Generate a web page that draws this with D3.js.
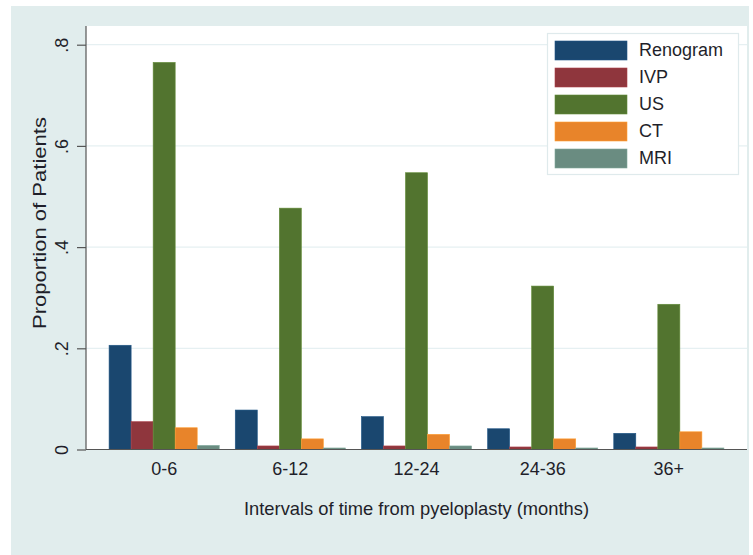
<!DOCTYPE html>
<html>
<head>
<meta charset="utf-8">
<script src="https://cdn.jsdelivr.net/npm/d3@7"></script>
<style>
  html, body { margin: 0; padding: 0; background: #ffffff; }
  svg { display: block; font-family: "Liberation Sans", Arial, sans-serif; }
</style>
</head>
<body>
<svg id="chart" width="753" height="555"></svg>
<script>
const categories = ["0-6", "6-12", "12-24", "24-36", "36+"];
const seriesNames = ["Renogram", "IVP", "US", "CT", "MRI"];
const renogram = [0.206, 0.078, 0.065, 0.041, 0.032];
const ivp      = [0.055, 0.007, 0.007, 0.005, 0.005];
const us       = [0.765, 0.477, 0.547, 0.323, 0.287];
const ct       = [0.043, 0.021, 0.030, 0.021, 0.035];
const mri      = [0.008, 0.003, 0.007, 0.003, 0.003];
const yTicks   = [0, 0.2, 0.4, 0.6, 0.8];
const yTickLabels = ["0", ".2", ".4", ".6", ".8"];
const colors = ["#1a476f", "#8f363d", "#52742f", "#e8842a", "#6a8c81"];

const seriesValues = [renogram, ivp, us, ct, mri];

const svg = d3.select("#chart");
const W = 753, H = 555;
const plot = { left: 86, right: 747, top: 26, bottom: 449.5 };
const textColor = "#1f1f2a";

// outer graph region
svg.append("rect").attr("x", 11).attr("y", 6).attr("width", 738).attr("height", H - 6)
  .attr("fill", "#e1eded");
// plot region
svg.append("rect").attr("x", plot.left).attr("y", plot.top)
  .attr("width", plot.right - plot.left).attr("height", plot.bottom - plot.top)
  .attr("fill", "#ffffff");

const x0 = d3.scaleBand().domain(categories).range([plot.left, plot.right])
  .paddingInner(0.127).paddingOuter(0.183);
const x1 = d3.scaleBand().domain(seriesNames).range([0, x0.bandwidth()]).padding(0);
const y = d3.scaleLinear().domain([0, 0.8]).range([plot.bottom, plot.bottom - 0.8 * 506]);

// gridlines
svg.append("g").selectAll("line").data(yTicks.filter(d => d > 0)).join("line")
  .attr("x1", plot.left).attr("x2", plot.right)
  .attr("y1", d => y(d)).attr("y2", d => y(d))
  .attr("stroke", "#e6f0f2").attr("stroke-width", 1.2);

// bars
const color = d3.scaleOrdinal().domain(seriesNames).range(colors);
const groups = svg.append("g").selectAll("g").data(categories).join("g")
  .attr("transform", d => `translate(${x0(d)},0)`);
groups.selectAll("rect")
  .data((c, i) => seriesNames.map((s, j) => ({ s, v: seriesValues[j][i] })))
  .join("rect")
  .attr("x", d => x1(d.s))
  .attr("y", d => y(d.v))
  .attr("width", x1.bandwidth())
  .attr("height", d => y(0) - y(d.v))
  .attr("fill", d => color(d.s))
  .attr("stroke", d => d3.color(color(d.s)).brighter(0.5))
  .attr("stroke-width", 0.6);

// y axis
const yAxis = d3.axisLeft(y).tickValues(yTicks).tickFormat((d, i) => yTickLabels[i])
  .tickSize(9).tickPadding(0);
const gy = svg.append("g").attr("transform", `translate(${plot.left},0)`).call(yAxis);
gy.select(".domain").attr("d", `M0,${plot.top}V${plot.bottom}`).attr("stroke", "#555").attr("stroke-width", 1.2);
gy.selectAll(".tick line").attr("stroke", "#555").attr("stroke-width", 1.2);
gy.selectAll(".tick text")
  .attr("x", 0).attr("y", 0).attr("dy", null)
  .attr("text-anchor", "middle")
  .attr("transform", "translate(-23,0) rotate(-90)")
  .attr("dominant-baseline", "middle")
  .attr("font-size", 18).attr("fill", textColor)
  .style("font-family", "'Liberation Sans', Arial, sans-serif");

// x axis
const xAxis = d3.axisBottom(x0).tickSize(0).tickPadding(0);
const gx = svg.append("g").attr("transform", `translate(0,${plot.bottom})`).call(xAxis);
gx.select(".domain").attr("d", `M${plot.left},0H${plot.right}`).attr("stroke", "#555").attr("stroke-width", 1.2);
gx.selectAll(".tick text").attr("y", 25).attr("dy", null)
  .attr("font-size", 18).attr("fill", textColor)
  .style("font-family", "'Liberation Sans', Arial, sans-serif");

// axis titles
svg.append("text")
  .attr("x", (plot.left + plot.right) / 2).attr("y", 515)
  .attr("text-anchor", "middle").attr("font-size", 18.5).attr("fill", textColor)
  .attr("textLength", 345).attr("lengthAdjust", "spacingAndGlyphs")
  .text("Intervals of time from pyeloplasty (months)");
svg.append("text")
  .attr("transform", "translate(46,223) rotate(-90)")
  .attr("text-anchor", "middle").attr("font-size", 19).attr("fill", textColor)
  .attr("textLength", 212).attr("lengthAdjust", "spacingAndGlyphs")
  .text("Proportion of Patients");

// legend
const lg = svg.append("g");
lg.append("rect").attr("x", 547.5).attr("y", 33.5).attr("width", 191).attr("height", 141)
  .attr("fill", "#ffffff").attr("stroke", "#dfeaec").attr("stroke-width", 1.2);
const items = lg.selectAll("g").data(seriesNames).join("g")
  .attr("transform", (d, i) => `translate(555,${41 + i * 27})`);
items.append("rect").attr("width", 72).attr("height", 19)
  .attr("fill", d => color(d))
  .attr("stroke", d => d3.color(color(d)).brighter(0.5)).attr("stroke-width", 0.6);
items.append("text").attr("x", 84).attr("y", 10).attr("dominant-baseline", "middle")
  .attr("font-size", 18).attr("fill", textColor).text(d => d);
</script>
</body>
</html>
